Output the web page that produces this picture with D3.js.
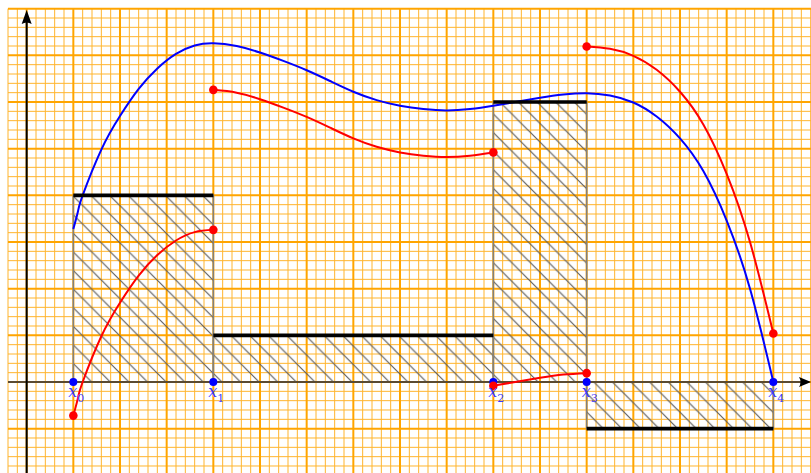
<!DOCTYPE html>
<html>
<head>
<meta charset="utf-8">
<script src="https://cdn.jsdelivr.net/npm/d3@7"></script>
<style>
html,body{margin:0;padding:0;background:#fff;}
svg{display:block;}
</style>
</head>
<body>
<svg id="chart" width="811" height="473"></svg>
<script>
// ---- data ----
const knots = [0.5, 2, 5, 6, 8];
const knotLabels = ["0", "1", "2", "3", "4"];
const stepValues = [2, 0.5, 3, -0.5];

const blueX = [0.5, 0.55, 0.6, 0.8, 1.0, 1.2, 1.4, 1.6, 1.8, 2.0, 2.25, 2.5, 2.75, 3.0, 3.25, 3.5, 3.75, 4.0, 4.25, 4.5, 4.75, 5.0, 5.25, 5.5, 5.75, 6.0, 6.25, 6.5, 6.75, 7.0, 7.25, 7.5, 7.75, 8.0];
const blueY = [1.64, 1.83, 2.0, 2.49, 2.85, 3.14, 3.36, 3.516, 3.606, 3.63, 3.60, 3.53, 3.44, 3.34, 3.225, 3.11, 3.02, 2.96, 2.925, 2.91, 2.925, 2.96, 3.003, 3.045, 3.08, 3.095, 3.07, 2.995, 2.845, 2.61, 2.26, 1.73, 1.0, 0.0];

const red1X = [0.5, 0.55, 0.6, 0.8, 1.0, 1.2, 1.4, 1.6, 1.8, 2.0];
const red1Y = [-0.36, -0.17, 0.0, 0.49, 0.85, 1.14, 1.36, 1.516, 1.606, 1.63];
const red2X = [2.0, 2.25, 2.5, 2.75, 3.0, 3.25, 3.5, 3.75, 4.0, 4.25, 4.5, 4.75, 5.0];
const red2Y = [3.13, 3.10, 3.03, 2.94, 2.84, 2.725, 2.61, 2.52, 2.46, 2.425, 2.41, 2.425, 2.46];
const red3X = [5.0, 5.25, 5.5, 5.75, 6.0];
const red3Y = [-0.04, 0.003, 0.045, 0.08, 0.095];
const red4X = [6.0, 6.25, 6.5, 6.75, 7.0, 7.25, 7.5, 7.75, 8.0];
const red4Y = [3.595, 3.57, 3.495, 3.345, 3.11, 2.76, 2.23, 1.5, 0.52];

// ---- scales ----
const U = 93.333;
const x = d3.scaleLinear().domain([0, 8]).range([26.67, 26.67 + 8 * U]);
const y = d3.scaleLinear().domain([0, 4]).range([382, 382 - 4 * U]);

const svg = d3.select("#chart");
const W = 811, H = 473;

// pattern
const defs = svg.append("defs");
const p = 18.6;
const pat = defs.append("pattern")
  .attr("id", "hatch").attr("patternUnits", "userSpaceOnUse")
  .attr("width", p).attr("height", p)
  .attr("patternTransform", "translate(7.3,0)");
pat.append("path")
  .attr("d", `M-2,-2 L${p+2},${p+2} M${p-2},-2 L${p+2},2 M-2,${p-2} L2,${p+2}`)
  .attr("stroke", "#5c5c5c").attr("stroke-width", 1.2).attr("fill", "none");

// ---- grid ----
const gx0 = x(-0.2), gy0 = y(4);
const grid = svg.append("g");
const xs = d3.range(-2, 86).map(i => ({v: i / 10, major: i % 5 === 0}));
const ys = d3.range(-10, 41).map(i => ({v: i / 10, major: i % 5 === 0}));
grid.selectAll("line.vx").data(xs.filter(d => !d.major)).join("line")
  .attr("x1", d => x(d.v)).attr("x2", d => x(d.v)).attr("y1", gy0).attr("y2", H)
  .attr("stroke", "#ffb52e").attr("stroke-width", 1);
grid.selectAll("line.hy").data(ys.filter(d => !d.major)).join("line")
  .attr("y1", d => y(d.v)).attr("y2", d => y(d.v)).attr("x1", gx0).attr("x2", W)
  .attr("stroke", "#ffb52e").attr("stroke-width", 1);
grid.selectAll("line.vxm").data(xs.filter(d => d.major)).join("line")
  .attr("x1", d => x(d.v)).attr("x2", d => x(d.v)).attr("y1", gy0).attr("y2", H)
  .attr("stroke", "#ffa500").attr("stroke-width", 2);
grid.selectAll("line.hym").data(ys.filter(d => d.major)).join("line")
  .attr("y1", d => y(d.v)).attr("y2", d => y(d.v)).attr("x1", gx0).attr("x2", W)
  .attr("stroke", "#ffa500").attr("stroke-width", 2);

// ---- hatched step bars ----
const bars = stepValues.map((v, i) => ({a: knots[i], b: knots[i + 1], v}));
svg.append("g").selectAll("rect").data(bars).join("rect")
  .attr("x", d => x(d.a)).attr("width", d => x(d.b) - x(d.a))
  .attr("y", d => y(Math.max(0, d.v))).attr("height", d => Math.abs(y(d.v) - y(0)))
  .attr("fill", "url(#hatch)").attr("stroke", "#808080").attr("stroke-width", 1.5);

// ---- axes ----
svg.append("line").attr("x1", gx0).attr("x2", 803).attr("y1", y(0)).attr("y2", y(0))
  .attr("stroke", "#5a4a30").attr("stroke-width", 2);
svg.append("path").attr("d", `M811,${y(0)} L799,${y(0)-5} Q802,${y(0)} 799,${y(0)+5} Z`).attr("fill", "#000");
svg.append("line").attr("x1", x(0)).attr("x2", x(0)).attr("y1", H).attr("y2", 22)
  .attr("stroke", "#000").attr("stroke-width", 2);
svg.append("path").attr("d", `M${x(0)},10 L${x(0)-5},24 Q${x(0)},21 ${x(0)+5},24 Z`).attr("fill", "#000");

// ---- curves ----
const line = d3.line().x(d => x(d[0])).y(d => y(d[1])).curve(d3.curveNatural);
svg.append("path").attr("d", line(d3.zip(blueX, blueY)))
  .attr("fill", "none").attr("stroke", "#0000ff").attr("stroke-width", 2);

// bar tops
svg.append("g").selectAll("line").data(bars).join("line")
  .attr("x1", d => x(d.a)).attr("x2", d => x(d.b)).attr("y1", d => y(d.v)).attr("y2", d => y(d.v))
  .attr("stroke", "#000").attr("stroke-width", 3.6);

const reds = [[red1X, red1Y], [red2X, red2Y], [red3X, red3Y], [red4X, red4Y]];
reds.forEach(([rx, ry]) => {
  svg.append("path").attr("d", line(d3.zip(rx, ry)))
    .attr("fill", "none").attr("stroke", "#ff0000").attr("stroke-width", 2);
});

// blue knot dots
svg.append("g").selectAll("circle").data(knots).join("circle")
  .attr("cx", d => x(d)).attr("cy", y(0)).attr("r", 4).attr("fill", "#0000ff");

// red endpoint dots
const redPts = [];
reds.forEach(([rx, ry]) => {
  redPts.push([rx[0], ry[0]]);
  redPts.push([rx[rx.length - 1], ry[ry.length - 1]]);
});
svg.append("g").selectAll("circle").data(redPts).join("circle")
  .attr("cx", d => x(d[0])).attr("cy", d => y(d[1])).attr("r", 4.3).attr("fill", "#ff0000");

// labels
const lab = svg.append("g").selectAll("text").data(knots).join("text")
  .attr("x", d => x(d) - 5).attr("y", 397)
  .attr("fill", "#3a3aff")
  .style("font-family", "'DejaVu Serif','Liberation Serif',serif");
lab.append("tspan").text("x").style("font-style", "italic").style("font-size", "16px");
lab.append("tspan").attr("dy", 5).style("font-size", "11px").text((d, i) => knotLabels[i]);
</script>
</body>
</html>
